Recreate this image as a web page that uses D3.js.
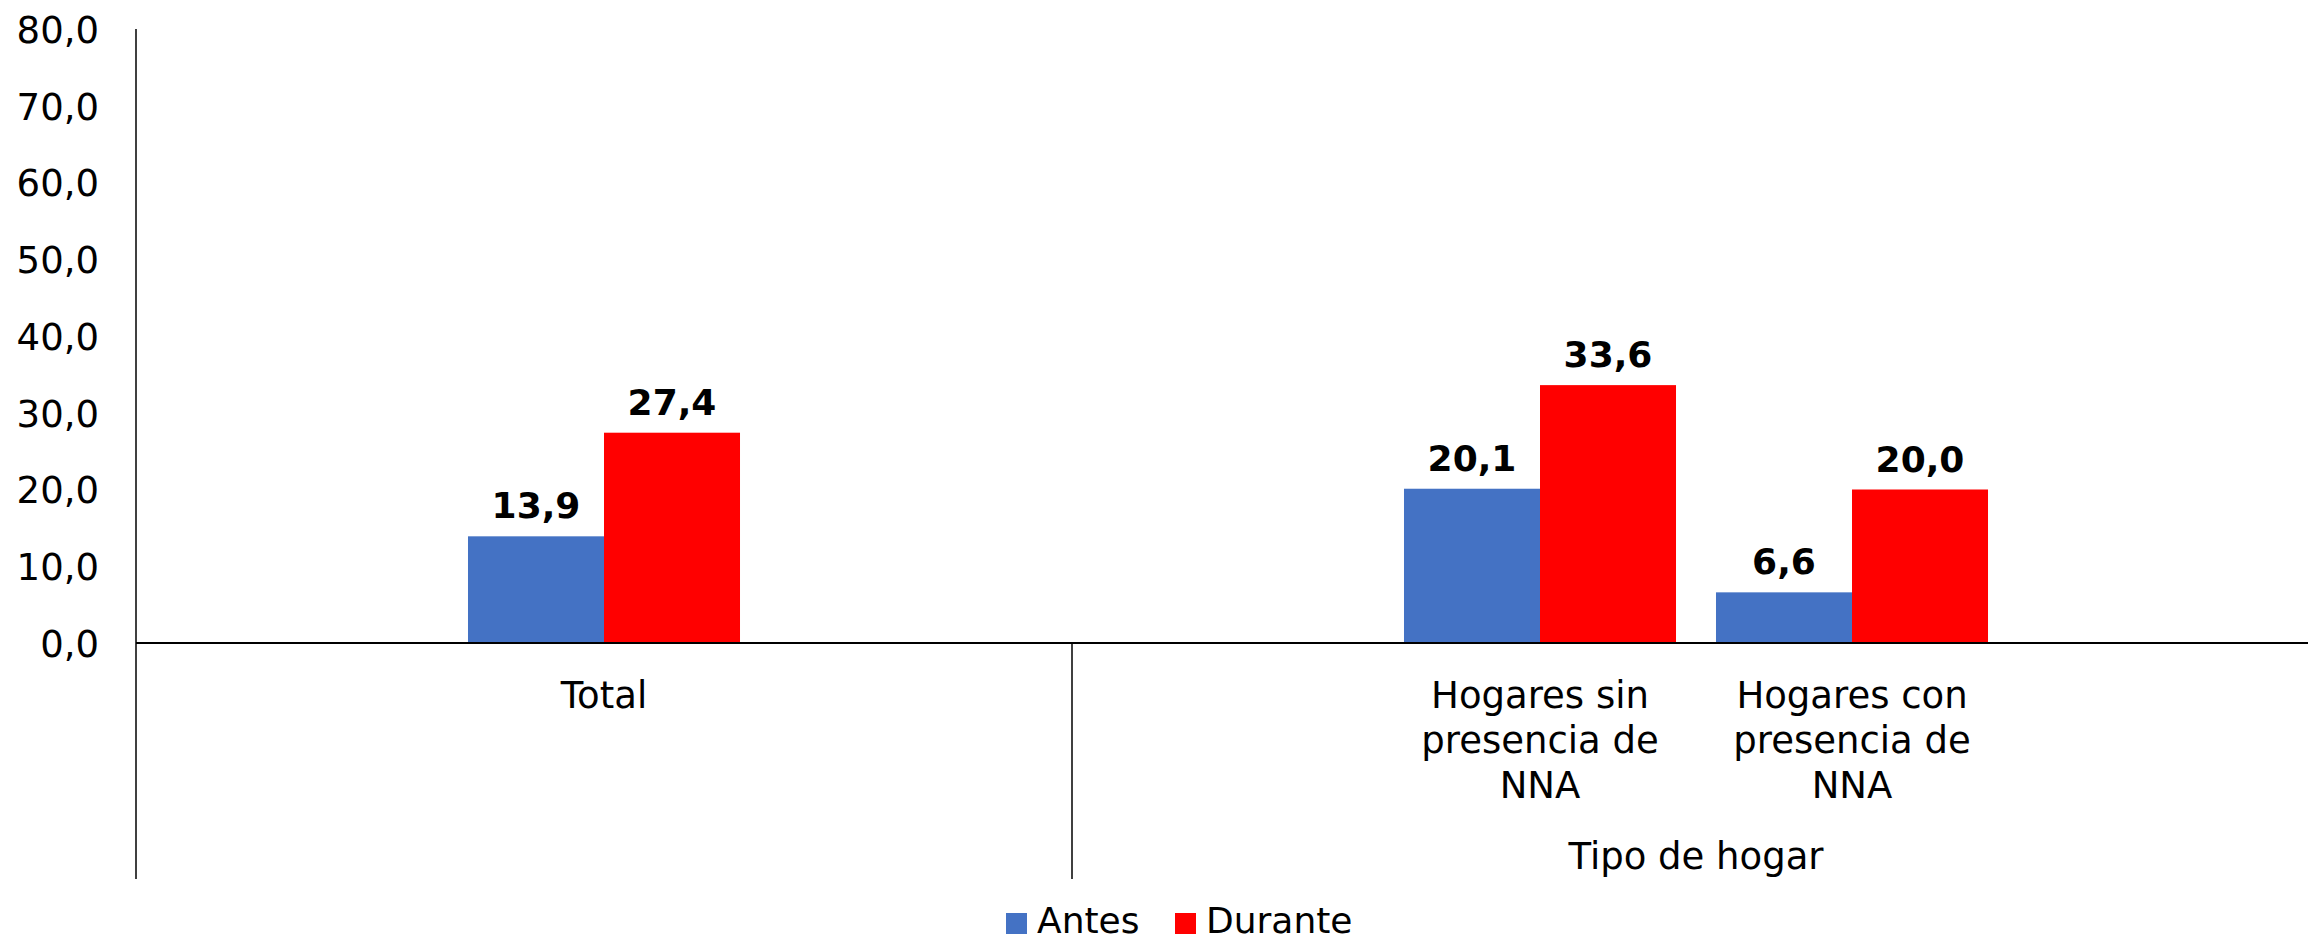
<!DOCTYPE html>
<html>
<head>
<meta charset="utf-8">
<script src="https://cdn.jsdelivr.net/npm/d3@7"></script>
<style>
  html, body { margin: 0; padding: 0; background: #fff; }
  svg { display: block; font-family: "DejaVu Sans", Verdana, sans-serif; }
</style>
</head>
<body>
<svg id="chart" width="2308" height="940"></svg>
<script>
// ---- data ----
const seriesNames = ["Antes", "Durante"];
const seriesColors = ["#4472C4", "#FF0000"];
const categories = ["Total", "Hogares sin presencia de NNA", "Hogares con presencia de NNA"];
const categoryLines = [["Total"], ["Hogares sin", "presencia de", "NNA"], ["Hogares con", "presencia de", "NNA"]];
const antes = [13.9, 20.1, 6.6];
const durante = [27.4, 33.6, 20.0];
const groupNames = ["", "Tipo de hogar"];
const yTicks = [0, 10, 20, 30, 40, 50, 60, 70, 80];

// slot layout of the multi-level category axis (blank slots pad each group)
const groupSlots = [
  ["pad-0a", "Total", "pad-0b"],
  ["pad-1a", "Hogares sin presencia de NNA", "Hogares con presencia de NNA", "pad-1b"]
];
const slots = groupSlots.flat();

const svg = d3.select("#chart");
const fmt = v => d3.format(".1f")(v).replace(".", ",");

const x0 = d3.scaleBand().domain(slots).range([136, 2320]).paddingInner(0).paddingOuter(0);
const x1 = d3.scaleBand().domain(seriesNames).range([0, x0.bandwidth()]).paddingInner(0).paddingOuter(0.147);
const y = d3.scaleLinear().domain([0, 80]).range([643, 29]);

const axisBottomY = 879;

// y axis labels
const yAxis = d3.axisLeft(y).tickValues(yTicks).tickSize(0).tickPadding(37).tickFormat(fmt);
const gy = svg.append("g").attr("transform", `translate(${x0.range()[0]},0)`).call(yAxis);
gy.select(".domain").remove();
gy.selectAll("text").attr("font-size", 37).attr("fill", "#000")
  .attr("font-family", "DejaVu Sans, Verdana, sans-serif").attr("dy", "0.36em");

// bars
const data = categories.map((c, i) => ({ cat: c, values: [antes[i], durante[i]] }));
const gBars = svg.append("g");
data.forEach(d => {
  d.values.forEach((v, si) => {
    const bx = x0(d.cat) + x1(seriesNames[si]);
    gBars.append("rect")
      .attr("x", bx).attr("y", y(v))
      .attr("width", x1.bandwidth()).attr("height", y(0) - y(v))
      .attr("fill", seriesColors[si]);
    gBars.append("text")
      .attr("x", bx + x1.bandwidth() / 2).attr("y", y(v) - 18)
      .attr("text-anchor", "middle").attr("font-size", 36).attr("font-weight", "bold")
      .attr("fill", "#000").text(fmt(v));
  });
});

// axis lines
svg.append("line").attr("x1", x0.range()[0]).attr("x2", x0.range()[1])
  .attr("y1", y(0)).attr("y2", y(0)).attr("stroke", "#000").attr("stroke-width", 2);
svg.append("line").attr("x1", x0.range()[0]).attr("x2", x0.range()[0])
  .attr("y1", y(80)).attr("y2", axisBottomY).attr("stroke", "#000").attr("stroke-width", 1.5);
// group dividers
groupSlots.forEach((g, gi) => {
  if (gi === 0) return;
  const gx = x0(g[0]);
  svg.append("line").attr("x1", gx).attr("x2", gx)
    .attr("y1", y(0)).attr("y2", axisBottomY).attr("stroke", "#000").attr("stroke-width", 1.5);
});

// category labels
categories.forEach((c, i) => {
  const cx = x0(c) + x0.bandwidth() / 2;
  const t = svg.append("text").attr("x", cx).attr("y", 708)
    .attr("text-anchor", "middle").attr("font-size", 37).attr("fill", "#000");
  categoryLines[i].forEach((line, li) => {
    t.append("tspan").attr("x", cx).attr("dy", li === 0 ? 0 : 45).text(line);
  });
});

// group labels
groupSlots.forEach((g, gi) => {
  if (!groupNames[gi]) return;
  const gx0 = x0(g[0]);
  const gx1 = x0(g[g.length - 1]) + x0.bandwidth();
  svg.append("text").attr("x", (gx0 + gx1) / 2).attr("y", 869)
    .attr("text-anchor", "middle").attr("font-size", 37).attr("fill", "#000")
    .text(groupNames[gi]);
});

// legend
const legendX = [1006, 1175];
seriesNames.forEach((s, i) => {
  svg.append("rect").attr("x", legendX[i]).attr("y", 913).attr("width", 21).attr("height", 21)
    .attr("fill", seriesColors[i]);
  svg.append("text").attr("x", legendX[i] + 31).attr("y", 933)
    .attr("font-size", 36).attr("fill", "#000").text(s);
});
</script>
</body>
</html>
